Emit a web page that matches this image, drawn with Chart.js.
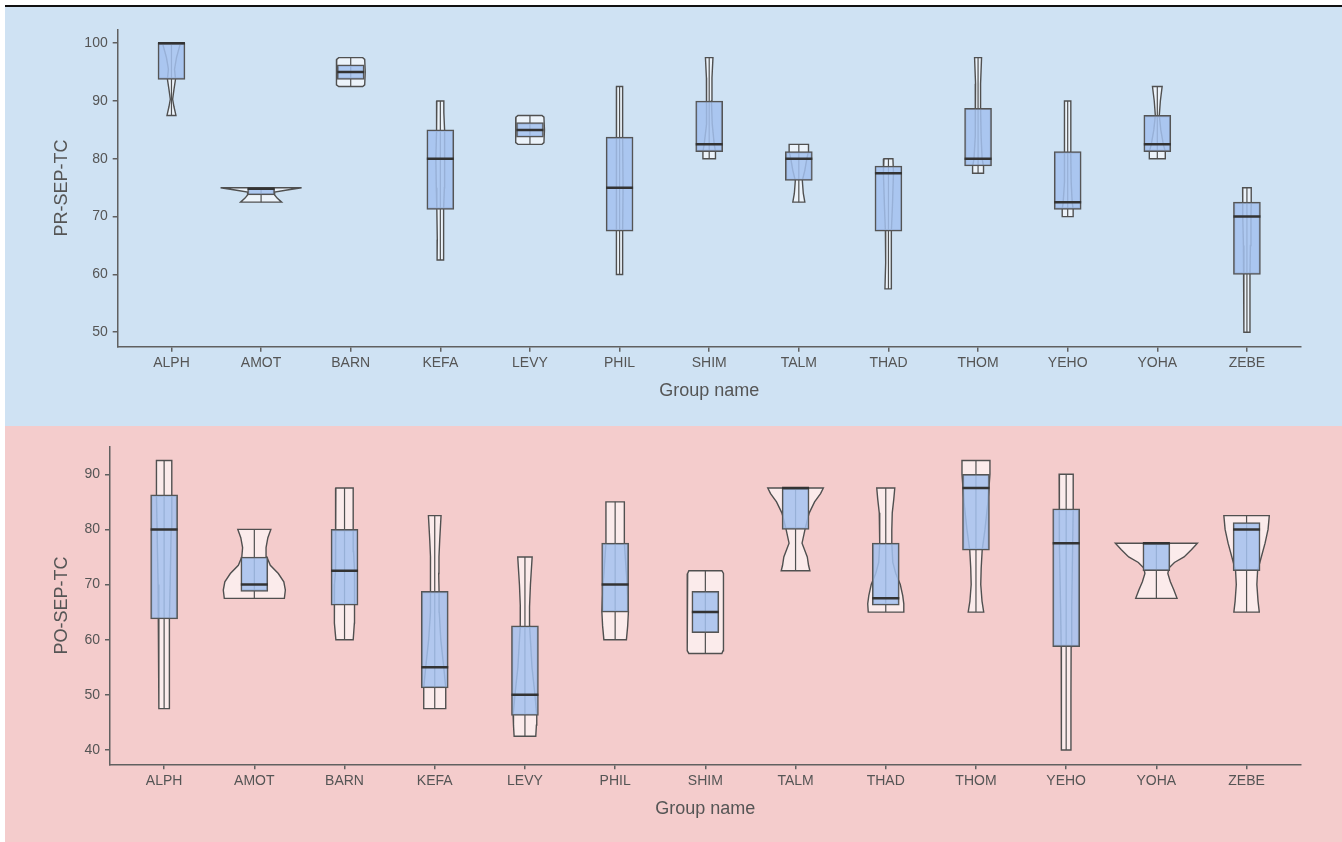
<!DOCTYPE html>
<html><head><meta charset="utf-8">
<script src="https://cdn.jsdelivr.net/npm/chart.js@4/dist/chart.umd.min.js"></script>
<style>
html,body{margin:0;padding:0;background:#fff;width:1342px;height:842px;overflow:hidden;}
#topline{position:absolute;left:5px;top:5px;width:1337px;height:2px;background:#111;}
.panel{position:absolute;left:5px;width:1337px;}
#p1{top:7px;height:419px;background:#cfe2f3;}
#p2{top:426px;height:416px;background:#f4cccc;}
canvas{display:block;}
</style></head><body>
<div id="topline"></div>
<div class="panel" id="p1"><canvas id="c1" width="1337" height="419"></canvas></div>
<div class="panel" id="p2"><canvas id="c2" width="1337" height="416"></canvas></div>
<script>
const categories = ['ALPH','AMOT','BARN','KEFA','LEVY','PHIL','SHIM','TALM','THAD','THOM','YEHO','YOHA','ZEBE'];
const xAxisTitle = 'Group name';

// ---- Top panel: PR-SEP-TC ----
const prTitle = 'PR-SEP-TC';
const prTicks = [50, 60, 70, 80, 90, 100];
const prQ1     = [93.75, 73.75, 93.75, 71.25, 83.75, 67.5, 81.25, 76.25, 67.5, 78.75, 71.25, 81.25, 60];
const prMedian = [100,   74.8,  95,    80,    85,    75,   82.5,  80,    77.5, 80,    72.5,  82.5,  70];
const prQ3     = [100,   75,    96.25, 85,    86.25, 83.75,90,    81.25, 78.75,88.75, 81.25, 87.5,  72.5];
// violin density profiles: [value, half-width in category units]
const prViolins = [
  [[87.5,.050],[89,.028],[90.3,.013],[92,.028],[93.75,.045],[95.5,.034],[97.5,.056],[100,.100]],
  [[72.5,.229],[73.2,.179],[73.75,.151],[74.25,.151],[74.6,.29],[75,.452]],
  [[92.5,.134],[92.8,.156],[95,.162],[97.2,.156],[97.5,.134]],
  [[62.5,.036],[66,.034],[71.25,.039],[75,.045],[80,.05],[85,.045],[88,.039],[90,.039]],
  [[82.5,.134],[82.8,.156],[85,.162],[87.2,.156],[87.5,.134]],
  [[60,.034],[67.5,.034],[75,.039],[83.75,.034],[92.5,.034]],
  [[80,.07],[81.25,.07],[82.5,.056],[86,.034],[90,.025],[94,.031],[97.5,.042]],
  [[72.5,.067],[74,.05],[76.25,.039],[78,.067],[80,.089],[81.25,.108],[82.5,.108]],
  [[57.5,.039],[62,.031],[67.5,.034],[72,.045],[77.5,.056],[80,.05]],
  [[77.5,.061],[78.75,.061],[80,.045],[84,.034],[88.75,.028],[93,.028],[97.5,.039]],
  [[70,.061],[71.25,.061],[72.5,.05],[76,.039],[81.25,.034],[85,.034],[90,.036]],
  [[80,.089],[81.25,.089],[82.5,.067],[85,.039],[87.5,.022],[90,.034],[92.5,.054]],
  [[50,.034],[55,.034],[60,.034],[65,.039],[70,.045],[72.5,.048],[75,.048]]
];

// ---- Bottom panel: PO-SEP-TC ----
const poTitle = 'PO-SEP-TC';
const poTicks = [40, 50, 60, 70, 80, 90];
const poQ1     = [63.75, 68.75, 66.25, 51.25, 46.25, 65,   61.25, 80,   66.25, 76.25, 58.75, 72.5, 72.5];
const poMedian = [80,    70,    72.5,  55,    50,    70,   65,    87.5, 67.5,  87.5,  77.5,  77.5, 80];
const poQ3     = [86.25, 75,    80,    68.75, 62.5,  77.5, 68.75, 87.5, 77.5,  90,    83.75, 77.5, 81.25];
const poViolins = [
  [[47.5,.058],[55,.058],[63.75,.059],[70,.067],[80,.078],[86.25,.085],[92.5,.085]],
  [[67.5,.333],[69,.344],[70.5,.327],[72,.266],[73.5,.177],[75,.139],[76.7,.13],[78.5,.15],[80,.183]],
  [[60,.096],[63,.109],[66.25,.116],[70,.111],[72.5,.105],[76,.1],[80,.096],[84,.096],[87.5,.096]],
  [[47.5,.122],[49.5,.122],[51.25,.122],[55,.1],[60,.067],[65,.05],[68.75,.048],[72,.044],[75,.047],[78,.055],[82.5,.07]],
  [[42.5,.12],[44.5,.127],[46.25,.131],[50,.111],[55,.078],[62.5,.052],[66,.051],[70,.061],[75,.08]],
  [[60,.125],[62.5,.139],[65,.147],[70,.133],[77.5,.102],[81,.102],[85,.102]],
  [[57.5,.183],[58,.196],[61,.202],[65,.203],[69,.202],[72,.196],[72.5,.183]],
  [[72.5,.159],[73.5,.144],[75,.13],[77.5,.072],[80,.105],[82,.135],[83,.152],[85,.211],[86.5,.277],[87.5,.308]],
  [[65,.194],[66.5,.2],[68,.188],[70,.161],[72,.111],[74,.078],[77.5,.067],[80,.067],[83,.072],[85.5,.089],[87.5,.1]],
  [[65,.086],[67,.067],[70,.053],[73,.058],[76.25,.069],[80,.1],[85,.133],[90,.155],[92.5,.155]],
  [[40,.053],[50,.053],[58.75,.055],[65,.061],[77.5,.072],[83.75,.078],[90,.078]],
  [[67.5,.229],[69,.194],[70.5,.155],[72,.127],[73,.139],[74,.2],[75,.307],[76.3,.388],[77.5,.455]],
  [[65,.141],[67,.127],[70,.114],[72.5,.122],[74.5,.155],[77.5,.205],[80,.238],[82.5,.252]]
];

Chart.defaults.font.family = "'Liberation Sans', Arial, sans-serif";
const TXT = '#555555';
const AX = '#606060';

function buildChart(id, o) {
  const datasets = [];
  o.violins.forEach((prof, i) => {
    const pts = [{x: i, y: prof[0][0]}];
    prof.forEach(([v, w]) => pts.push({x: i + w, y: v}));
    for (let k = prof.length - 1; k >= 0; k--) pts.push({x: i - prof[k][1], y: prof[k][0]});
    pts.push({x: i, y: prof[0][0]});
    datasets.push({type: 'line', data: pts, fill: 'shape', backgroundColor: 'rgba(255,255,255,0.6)',
      borderColor: '#505050', borderWidth: 1.4, pointRadius: 0, pointHoverRadius: 0, tension: 0, order: 3});
    datasets.push({type: 'line', data: [{x: i, y: prof[0][0]}, {x: i, y: prof[prof.length - 1][0]}],
      borderColor: '#505050', borderWidth: 1.2, pointRadius: 0, pointHoverRadius: 0, fill: false, tension: 0, order: 2});
  });
  datasets.push({type: 'bar', data: o.q1.map((q, i) => ({x: i, y: [q, o.q3[i]]})),
    backgroundColor: 'rgba(163,193,239,0.85)', borderColor: '#555555', borderWidth: 1.5,
    borderSkipped: false, barThickness: 27, order: 1});
  datasets.push({type: 'line', data: o.med.map((m, i) => ({x: i, y: m})), showLine: false,
    pointStyle: 'line', pointRadius: 13.5, pointHoverRadius: 13.5, pointBorderColor: '#333333',
    pointBorderWidth: 2.5, pointHoverBorderWidth: 2.5, order: 0});

  return new Chart(document.getElementById(id), {
    type: 'line',
    data: {datasets},
    options: {
      responsive: false, animation: false, events: [],
      layout: {padding: {left: 0, top: o.padTop, right: 41.3, bottom: 0}},
      plugins: {legend: {display: false}, tooltip: {enabled: false}},
      scales: {
        x: {
          type: 'linear', min: -0.6, max: 12.6, offset: false,
          afterBuildTicks: s => { s.ticks = categories.map((_, i) => ({value: i})); },
          afterFit: s => { s.height = o.xHeight; },
          grid: {display: true, drawOnChartArea: false, drawTicks: true, tickLength: 5, color: AX, lineWidth: 1.5, offset: false},
          border: {display: true, color: AX, width: 1.5},
          ticks: {autoSkip: false, maxRotation: 0, minRotation: 0, padding: 3, color: TXT, font: {size: 14},
            callback: v => categories[v]},
          title: {display: true, text: xAxisTitle, color: TXT, font: {size: 18}, padding: {top: 0, bottom: o.xTitlePad}}
        },
        y: {
          type: 'linear', min: o.yMin, max: o.yMax,
          afterBuildTicks: s => { s.ticks = o.ticks.map(v => ({value: v})); },
          afterFit: s => { s.width = o.yWidth; },
          grid: {display: true, drawOnChartArea: false, drawTicks: true, tickLength: 5, color: AX, lineWidth: 1.5},
          border: {display: true, color: AX, width: 1.5},
          ticks: {padding: 5, color: TXT, font: {size: 14}, callback: v => String(v)},
          title: {display: true, text: o.title, color: TXT, font: {size: 18}, padding: {top: 46.7, bottom: 0}}
        }
      }
    }
  });
}

buildChart('c1', {violins: prViolins, q1: prQ1, med: prMedian, q3: prQ3, ticks: prTicks, title: prTitle,
  yMin: 47.5, yMax: 102.4, padTop: 22.3, yWidth: 112.7, xHeight: 79.3, xTitlePad: 24.2});
buildChart('c2', {violins: poViolins, q1: poQ1, med: poMedian, q3: poQ3, ticks: poTicks, title: poTitle,
  yMin: 37.4, yMax: 95.0, padTop: 20.7, yWidth: 105, xHeight: 77.7, xTitlePad: 21.9});
</script>
</body></html>
